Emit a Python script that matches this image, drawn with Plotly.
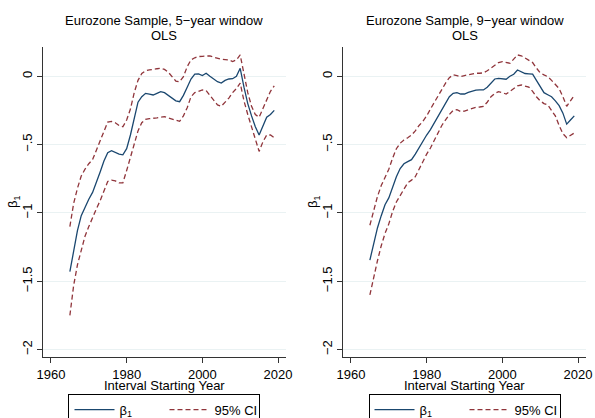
import plotly.graph_objects as go

years = list(range(1965, 2020))

# 5-year window
beta5 = [-1.43, -1.27, -1.13, -1.02, -0.955, -0.90, -0.85, -0.78, -0.70, -0.62,
         -0.56, -0.545, -0.56, -0.57, -0.575, -0.53, -0.43, -0.30, -0.19, -0.15,
         -0.125, -0.13, -0.137, -0.125, -0.113, -0.12, -0.14, -0.155, -0.18, -0.186,
         -0.14, -0.08, -0.02, 0.015, 0.017, 0.005, 0.022, 0.0, -0.02, -0.04,
         -0.05, -0.03, -0.02, -0.018, 0.0, 0.058, -0.08, -0.20, -0.29, -0.37,
         -0.43, -0.36, -0.30, -0.28, -0.25]
upper5 = [-1.10, -0.93, -0.82, -0.73, -0.68, -0.64, -0.61, -0.54, -0.48, -0.40,
          -0.335, -0.33, -0.34, -0.36, -0.37, -0.32, -0.24, -0.12, -0.03, 0.02,
          0.04, 0.046, 0.048, 0.055, 0.058, 0.05, 0.03, 0.0, -0.035, -0.04,
          -0.003, 0.07, 0.12, 0.135, 0.144, 0.146, 0.148, 0.149, 0.14, 0.13,
          0.124, 0.122, 0.12, 0.107, 0.12, 0.156, 0.02, -0.12, -0.22, -0.28,
          -0.30, -0.24, -0.17, -0.11, -0.07]
lower5 = [-1.75, -1.53, -1.38, -1.27, -1.17, -1.10, -1.03, -0.97, -0.91, -0.84,
          -0.77, -0.76, -0.765, -0.78, -0.78, -0.69, -0.59, -0.48, -0.40, -0.34,
          -0.315, -0.31, -0.31, -0.305, -0.30, -0.296, -0.305, -0.315, -0.325, -0.33,
          -0.29, -0.23, -0.15, -0.12, -0.11, -0.10, -0.105, -0.14, -0.18, -0.21,
          -0.22, -0.19, -0.16, -0.12, -0.09, -0.05, -0.18, -0.28, -0.37, -0.47,
          -0.55, -0.48, -0.43, -0.43, -0.45]

# 9-year window
beta9 = [-1.345, -1.22, -1.11, -1.02, -0.94, -0.89, -0.81, -0.735, -0.675, -0.64,
         -0.625, -0.61, -0.57, -0.52, -0.47, -0.43, -0.39, -0.34, -0.29, -0.245,
         -0.20, -0.15, -0.125, -0.12, -0.13, -0.13, -0.118, -0.107, -0.102, -0.10,
         -0.10, -0.08, -0.05, -0.02, -0.015, -0.018, -0.022, 0.0, 0.015, 0.046,
         0.035, 0.02, 0.018, 0.015, -0.03, -0.08, -0.12, -0.135, -0.15, -0.18,
         -0.215, -0.27, -0.35, -0.32, -0.29]
upper9 = [-1.09, -0.98, -0.88, -0.80, -0.74, -0.68, -0.60, -0.53, -0.49, -0.466,
          -0.45, -0.43, -0.40, -0.36, -0.33, -0.29, -0.24, -0.19, -0.14, -0.09,
          -0.05, -0.01, 0.01, 0.005, -0.003, 0.005, 0.012, 0.02, 0.022, 0.022,
          0.025, 0.04, 0.06, 0.075, 0.10, 0.107, 0.10, 0.095, 0.125, 0.156,
          0.15, 0.135, 0.12, 0.10, 0.06, 0.025, 0.01, -0.003, -0.03, -0.06,
          -0.09, -0.15, -0.22, -0.18, -0.14]
lower9 = [-1.60, -1.47, -1.35, -1.24, -1.15, -1.08, -0.99, -0.92, -0.87, -0.82,
          -0.78, -0.76, -0.735, -0.68, -0.62, -0.57, -0.525, -0.47, -0.42, -0.36,
          -0.32, -0.28, -0.25, -0.245, -0.258, -0.255, -0.245, -0.235, -0.228, -0.225,
          -0.22, -0.19, -0.15, -0.125, -0.113, -0.12, -0.13, -0.11, -0.09, -0.07,
          -0.064, -0.07, -0.08, -0.11, -0.15, -0.18, -0.20, -0.21, -0.25, -0.29,
          -0.36, -0.42, -0.45, -0.43, -0.415]

title_line1 = ["Eurozone Sample, 5\u2212year window", "Eurozone Sample, 9\u2212year window"]
title_line2 = ["OLS", "OLS"]
xtitle = "Interval Starting Year"
ytitle = "\u03b2<sub>1</sub>"
xticks = [1960, 1980, 2000, 2020]
yticks = [0, -0.5, -1, -1.5, -2]
yticklabels = ["0", "\u2212.5", "\u22121", "\u22121.5", "\u22122"]

NAVY = "#1a476f"
MAROON = "#90353b"
FONT = "Liberation Sans, Arial, sans-serif"

fig = go.Figure()
doms = [[0.0, 0.4475], [0.5525, 1.0]]
panels = [(beta5, upper5, lower5), (beta9, upper9, lower9)]
for i, (b, u, l) in enumerate(panels):
    xa = "x" if i == 0 else "x2"
    ya = "y" if i == 0 else "y2"
    lg = "legend" if i == 0 else "legend2"
    fig.add_trace(go.Scatter(x=years, y=b, mode="lines", name=ytitle,
                             line=dict(color=NAVY, width=1.3), xaxis=xa, yaxis=ya, legend=lg))
    fig.add_trace(go.Scatter(x=years, y=u, mode="lines", name="95% CI",
                             line=dict(color=MAROON, width=1.3, dash="5px,3px"),
                             xaxis=xa, yaxis=ya, legend=lg))
    fig.add_trace(go.Scatter(x=years, y=l, mode="lines", name="95% CI", showlegend=False,
                             line=dict(color=MAROON, width=1.3, dash="5px,3px"),
                             xaxis=xa, yaxis=ya, legend=lg))

axis_common_x = dict(range=[1957.9, 2022.1], tickvals=xticks, showgrid=False, zeroline=False,
                     showline=True, linecolor="#333333", linewidth=1, ticks="outside",
                     ticklen=5, tickcolor="#333333", tickfont=dict(size=13, color="#000"),
                     automargin=False)
axis_common_y = dict(range=[-2.054, 0.214], tickvals=yticks, ticktext=yticklabels,
                     tickangle=-90, showgrid=True, gridcolor="#eaf2f3", gridwidth=1,
                     zeroline=False, showline=True, linecolor="#333333", linewidth=1,
                     ticks="outside", ticklen=5, tickcolor="#333333",
                     tickfont=dict(size=13, color="#000"), automargin=False)

leg_common = dict(orientation="h", xanchor="center", y=-0.118, yanchor="top",
                  bordercolor="#000", borderwidth=1, font=dict(size=13), entrywidth=40,
                  itemwidth=40, tracegroupgap=0)

fig.update_layout(
    width=595, height=418,
    margin=dict(l=43, r=9, t=47, b=61, autoexpand=False),
    paper_bgcolor="white", plot_bgcolor="white",
    font=dict(family=FONT, color="#000"),
    xaxis=dict(domain=doms[0], anchor="y", **axis_common_x),
    yaxis=dict(domain=[0, 1], anchor="x", **axis_common_y),
    xaxis2=dict(domain=doms[1], anchor="y2", **axis_common_x),
    yaxis2=dict(domain=[0, 1], anchor="x2", **axis_common_y),
    legend=dict(x=sum(doms[0]) / 2, **leg_common),
    legend2=dict(x=sum(doms[1]) / 2, **leg_common),
    showlegend=True,
)

for i in range(2):
    cx = sum(doms[i]) / 2
    fig.add_annotation(text=title_line1[i], xref="paper", yref="paper", x=cx, y=1.0,
                       yshift=27, xanchor="center", yanchor="middle", showarrow=False,
                       font=dict(size=13, color="#000"))
    fig.add_annotation(text=title_line2[i], xref="paper", yref="paper", x=cx, y=1.0,
                       yshift=12, xanchor="center", yanchor="middle", showarrow=False,
                       font=dict(size=13, color="#000"))
    fig.add_annotation(text=xtitle, xref="paper", yref="paper", x=cx, y=0.0,
                       yshift=-28, xanchor="center", yanchor="middle", showarrow=False,
                       font=dict(size=13, color="#000"))
    fig.add_annotation(text=ytitle, xref="paper", yref="paper", x=doms[i][0], y=0.5,
                       xshift=-30, xanchor="center", yanchor="middle", showarrow=False,
                       textangle=-90, font=dict(size=13, color="#000"))

fig.write_html("out.html", config={"displayModeBar": False},
               post_script="document.body.style.margin='0';document.body.style.padding='0';")
